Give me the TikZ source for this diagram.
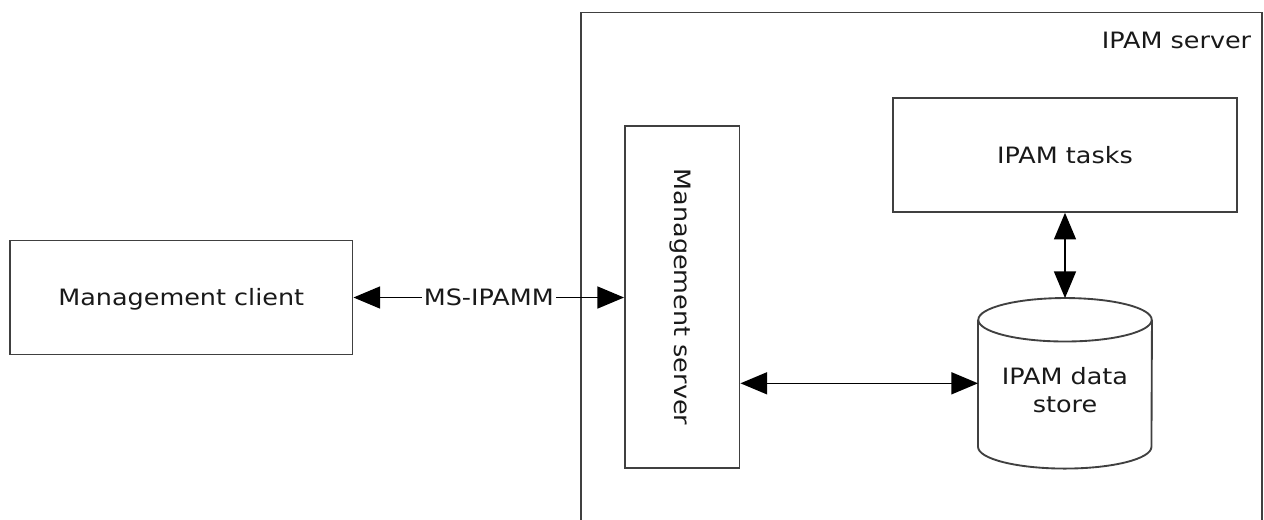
\documentclass[tikz,border=0pt]{standalone}
\usepackage{fontspec}
\setmainfont{DejaVu Sans}[FakeStretch=1.13]
\usetikzlibrary{arrows.meta}
\tikzset{
  lbl/.style={font=\fontsize{16.9pt}{21pt}\selectfont, text=black!90},
  box/.style={draw=black!75, line width=1.4pt, lbl, inner sep=0pt, text height=12.3pt, text depth=0pt},
  conn/.style={draw=black, line width=1.2pt, {Triangle[length=20pt,width=16.5pt]}-{Triangle[length=20pt,width=16.5pt]}},
}
\begin{document}
\begin{tikzpicture}[x=0.75pt,y=-0.75pt]
\useasboundingbox (0,0) rectangle (1264,519);
% IPAM server frame (open at the bottom)
\coordinate (fbl) at (581,522);
\coordinate (ftl) at (581,12.5);
\coordinate (ftr) at (1262,12.5);
\coordinate (fbr) at (1262,522);
\draw[draw=black!75, line width=1.4pt] (fbl) -- (ftl) -- (ftr) -- (fbr);
\node[lbl, anchor=base east, inner sep=0pt] (srvlbl) at (1251.5,48) {IPAM server};
% boxes
\node[box, minimum width=256.9pt, minimum height=85.5pt] (client) at (181.25,297.5) {Management client};
\node[box, minimum width=256.5pt, minimum height=85.9pt, rotate=-90] (mserver) at (682.25,297) {Management server};
\node[box, minimum width=258pt, minimum height=85.3pt] (tasks) at (1065,155) {IPAM tasks};
% data store cylinder
\node[minimum width=130.05pt, minimum height=127.5pt, inner sep=0pt] (store) at (1065,383.3) {};
\draw[draw=black!75, line width=1.4pt]
  ([yshift=-16.3pt]store.north west) -- ([yshift=16.3pt]store.south west)
  arc[start angle=180, end angle=360, x radius=65.03pt, y radius=16.3pt]
  -- ([yshift=-16.3pt]store.north east);
\draw[draw=black!75, line width=1.4pt] ([yshift=-16.3pt]store.north) ellipse [x radius=65.03pt, y radius=16.3pt];
\node[lbl, align=center, inner sep=0pt] (storelbl) at (1065,390.5) {IPAM data\\store};
% connectors
\draw[conn] (client.east) -- (client.east -| mserver.south)
  node[midway, fill=white, lbl, inner sep=1.5pt] (proto) {MS-IPAMM};
\draw[conn] (store.west -| mserver.north) -- (store.west);
\draw[conn] (tasks.south) -- (store.north);
\end{tikzpicture}
\end{document}
